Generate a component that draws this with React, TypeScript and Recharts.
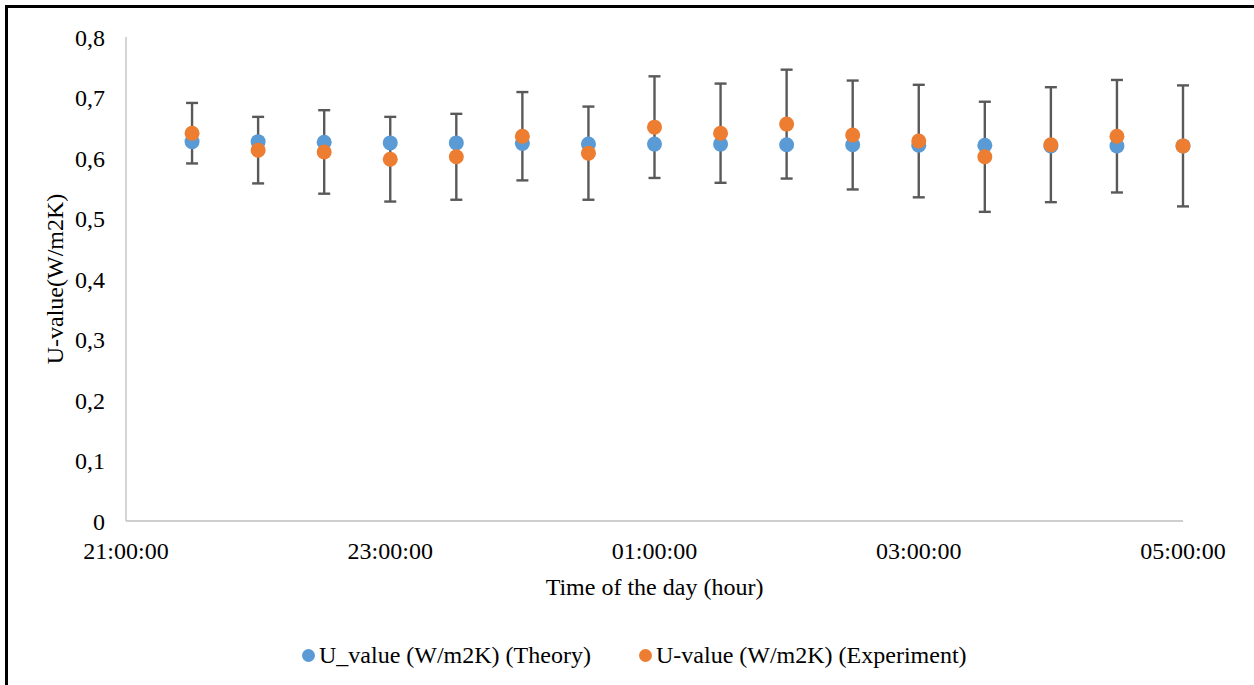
import React from "react";
import {
  ScatterChart, Scatter, XAxis, YAxis, ErrorBar, Label,
} from "recharts";

// half-hour readings, 21:30 -> 05:00 (hours past midnight carried over as 24+)
const hours = [21.5, 22, 22.5, 23, 23.5, 24, 24.5, 25, 25.5, 26, 26.5, 27, 27.5, 28, 28.5, 29];
const theory = [0.627, 0.627, 0.626, 0.625, 0.625, 0.624, 0.623, 0.623, 0.623, 0.622, 0.622, 0.621, 0.621, 0.620, 0.620, 0.620];
const experiment = [0.641, 0.613, 0.610, 0.598, 0.602, 0.636, 0.608, 0.651, 0.641, 0.656, 0.638, 0.628, 0.602, 0.622, 0.636, 0.620];
const expError = [0.05, 0.055, 0.069, 0.07, 0.071, 0.073, 0.077, 0.084, 0.082, 0.09, 0.09, 0.093, 0.091, 0.095, 0.093, 0.1];
const xTicks = [21, 23, 25, 27, 29];
const yTicks = [0, 0.1, 0.2, 0.3, 0.4, 0.5, 0.6, 0.7, 0.8];

const BLUE = "#5B9BD5";
const ORANGE = "#ED7D31";
const FONT = "'Liberation Serif', 'Times New Roman', serif";

const theoryData = hours.map((h, i) => ({ x: h, y: theory[i] }));
const expData = hours.map((h, i) => ({ x: h, y: experiment[i], err: expError[i] }));

const fmtTime = (v: number) => `${String(v % 24).padStart(2, "0")}:00:00`;
const fmtU = (v: number) => (v === 0 ? "0" : v.toFixed(1).replace(".", ","));

const dot = (color: string) => (p: any) => (
  <circle cx={p.cx} cy={p.cy} r={7.5} fill={color} />
);

const tickStyle = { fontSize: 24, fill: "#000", fontFamily: FONT };

const legendItems = [
  { name: "U_value (W/m2K) (Theory)", color: BLUE, left: 302 },
  { name: "U-value (W/m2K) (Experiment)", color: ORANGE, left: 639 },
];

export default function App() {
  return (
    <div style={{ position: "absolute", left: 0, top: 0, width: 1254, height: 685, background: "#fff", fontFamily: FONT }}>
      <div
        style={{
          position: "absolute", left: 5, top: 5, width: 1246, height: 690,
          borderLeft: "3px solid #000", borderTop: "3px solid #000", borderRight: "1px solid #a0a0a0",
        }}
      />
      <ScatterChart
        width={1254}
        height={685}
        margin={{ top: 37, right: 71, left: 0, bottom: 124 }}
        style={{ position: "absolute", left: 0, top: 0 }}
      >
        <XAxis
          type="number"
          dataKey="x"
          domain={[21, 29]}
          ticks={xTicks}
          tickFormatter={fmtTime}
          tick={tickStyle}
          tickLine={false}
          tickSize={0}
          tickMargin={21}
          height={40}
          axisLine={{ stroke: "#BFBFBF", strokeWidth: 1.3 }}
        >
          <Label
            value="Time of the day (hour)"
            position="bottom"
            offset={17}
            style={{ fontSize: 24, fill: "#000", fontFamily: FONT }}
          />
        </XAxis>
        <YAxis
          type="number"
          dataKey="y"
          domain={[0, 0.8]}
          ticks={yTicks}
          tickFormatter={fmtU}
          tick={tickStyle}
          tickLine={false}
          tickSize={0}
          tickMargin={21}
          width={126}
          axisLine={{ stroke: "#BFBFBF", strokeWidth: 1.3 }}
        >
          <Label
            value="U-value(W/m2K)"
            angle={-90}
            position="insideLeft"
            offset={54}
            style={{ fontSize: 24, fill: "#000", fontFamily: FONT, textAnchor: "middle" }}
          />
        </YAxis>
        <Scatter data={expData} shape={() => <g />} isAnimationActive={false} legendType="none">
          <ErrorBar dataKey="err" direction="y" width={6} stroke="#595959" strokeWidth={2.4} />
        </Scatter>
        <Scatter name="U_value (W/m2K) (Theory)" data={theoryData} shape={dot(BLUE)} isAnimationActive={false} zIndex={700} />
        <Scatter name="U-value (W/m2K) (Experiment)" data={expData} shape={dot(ORANGE)} isAnimationActive={false} zIndex={710} />
      </ScatterChart>
      {legendItems.map((it) => (
        <div
          key={it.name}
          style={{
            position: "absolute", left: it.left, top: 640, height: 30,
            display: "flex", alignItems: "center",
            fontSize: 24, color: "#000", whiteSpace: "nowrap",
          }}
        >
          <span style={{ width: 13, height: 13, borderRadius: "50%", background: it.color, marginRight: 4 }} />
          {it.name}
        </div>
      ))}
    </div>
  );
}
